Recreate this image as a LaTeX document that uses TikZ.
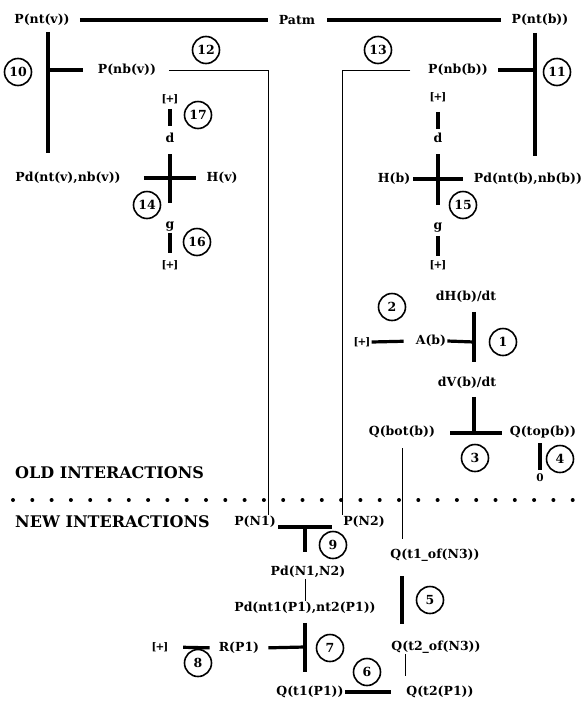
\documentclass[tikz,border=0pt]{standalone}
\usepackage{fontspec}
\setmainfont{DejaVu Serif}

\newcommand{\plusbox}{[\kern-1pt+\kern-1pt]}

\begin{document}
\begin{tikzpicture}[
  x=1pt, y=-1pt,
  var/.style={font=\fontsize{12.5}{14}\selectfont\bfseries, inner sep=1pt},
  unit/.style={font=\fontsize{10.5}{12}\selectfont\bfseries, inner sep=1pt},
  num/.style={
    draw, circle, line width=1.6pt, minimum size=27pt, inner sep=0pt,
    font=\fontsize{12.5}{14}\selectfont\bfseries
  },
  head/.style={font=\fontsize{16}{18}\selectfont\bfseries, anchor=west, inner sep=0pt},
  bar/.style={line width=3.2pt},
  wire/.style={line width=1pt},
  dotline/.style={line width=4pt, line cap=round, dash pattern=on 0pt off 19.3pt},
]
\useasboundingbox (0,0) rectangle (582,702);
% variables
\node[var] (ntv)  at (42,20)   {P(nt(v))};
\node[var] (patm) at (297,20)  {Patm};
\node[var] (ntb)  at (540,20)  {P(nt(b))};
\node[var] (nbv)  at (127,70)  {P(nb(v))};
\node[var] (nbb)  at (458,70)  {P(nb(b))};
\node[var] (pdv)  at (68,178)  {Pd(nt(v),nb(v))};
\node[var] (hv)   at (222,178) {H(v)};
\node[var] (hb)   at (394,179) {H(b)};
\node[var] (pdb)  at (528,179) {Pd(nt(b),nb(b))};
\node[var] (dv)   at (170,138) {d};
\node[var] (gv)   at (170,227) {g};
\node[var] (db)   at (438,138) {d};
\node[var] (gb)   at (438,228) {g};
\node[var] (dhdt) at (466,297) {dH(b)/dt};
\node[var] (ab)   at (431,341) {A(b)};
\node[var] (dvdt) at (467,383) {dV(b)/dt};
\node[var] (qbot) at (402,432) {Q(bot(b))};
\node[var] (qtop) at (543,432) {Q(top(b))};
\node[unit] (zero) at (540,478) {0};
\node[var] (pn1)  at (255,522) {P(N1)};
\node[var] (pn2)  at (364,522) {P(N2)};
\node[var] (pdn)  at (308,572) {Pd(N1,N2)};
\node[var] (pdnt) at (305,608) {Pd(nt1(P1),nt2(P1))};
\node[var] (q1n3) at (435,555) {Q(t1\_of(N3))};
\node[var] (q2n3) at (436,647) {Q(t2\_of(N3))};
\node[var] (rp1)  at (239,648) {R(P1)};
\node[var] (qt1)  at (310,692) {Q(t1(P1))};
\node[var] (qt2)  at (440,692) {Q(t2(P1))};
% constants
\node[unit] (pv1) at (170,99)  {\plusbox};
\node[unit] (pv2) at (170,265) {\plusbox};
\node[unit] (pb1) at (438,97)  {\plusbox};
\node[unit] (pb2) at (438,265) {\plusbox};
\node[unit] (pa)  at (362,342) {\plusbox};
\node[unit] (pr)  at (160,647) {\plusbox};
% headings
\node[head] (old) at (15,473) {OLD INTERACTIONS};
\node[head] (new) at (15,522) {NEW INTERACTIONS};
% constraint numbers
\node[num] (n1)  at (503,342) {1};
\node[num] (n2)  at (392,307) {2};
\node[num] (n3)  at (475,458) {3};
\node[num] (n4)  at (560,459) {4};
\node[num] (n5)  at (430,600) {5};
\node[num] (n6)  at (367,672) {6};
\node[num] (n7)  at (330,648) {7};
\node[num] (n8)  at (198,663) {8};
\node[num] (n9)  at (333,545) {9};
\node[num] (n10) at (18,72)   {10};
\node[num] (n11) at (557,72)  {11};
\node[num] (n12) at (206,50)  {12};
\node[num] (n13) at (378,50)  {13};
\node[num] (n14) at (147,205) {14};
\node[num] (n15) at (463,205) {15};
\node[num] (n16) at (197,242) {16};
\node[num] (n17) at (198,115) {17};
% junctions
\coordinate (j1)  at (474,342);
\coordinate (j3)  at (474,433);
\coordinate (j5)  at (402,600);
\coordinate (j7)  at (305,647);
\coordinate (j9)  at (305,527);
\coordinate (j10) at (48,70);
\coordinate (j11) at (535,70);
\coordinate (sepl) at (13,500);
\coordinate (sepr) at (578,500);
% constraints
\draw[bar, shorten <=9pt, shorten >=10pt] (ntv.east) -- (patm.west);
\draw[bar, shorten <=11pt, shorten >=9pt] (patm.east) -- (ntb.west);
\draw[bar, shorten <=5pt, shorten >=18pt] (ntv.south -| j10) -- (pdv.north -| j10);
\draw[bar, shorten >=14pt] (j10) -- (nbv.west);
\draw[bar, shorten <=6pt, shorten >=16pt] (ntb.south -| j11) -- (pdb.north -| j11);
\draw[bar, shorten >=9pt] (j11) -- (nbb.east);
\draw[bar, shorten <=10pt, shorten >=18pt] (dv) -- (gv);
\draw[bar, shorten <=22pt, shorten >=9pt] (pdv.east) -- (hv.west);
\draw[bar, shorten <=10pt, shorten >=17pt] (db) -- (gb);
\draw[bar, shorten <=2pt, shorten >=10pt] (hb.east) -- (pdb.west);
\draw[bar, shorten <=4pt, shorten >=6pt] (pv1) -- (dv);
\draw[bar, shorten >=6pt] (gv) -- (pv2);
\draw[bar, shorten <=9pt, shorten >=3pt] (pb1) -- (db);
\draw[bar, shorten <=2pt, shorten >=3pt] (gb) -- (pb2);
\draw[bar, shorten >=11pt] (pa.east) -- (ab.west);
\draw[bar, shorten <=8pt, shorten >=14pt] (dhdt.south -| j1) -- (dvdt.north -| j1);
\draw[bar] (ab.east) -- (j1);
\draw[bar, shorten <=7pt] (dvdt.south -| j3) -- (j3);
\draw[bar, shorten <=14pt, shorten >=7pt] (qbot.east |- j3) -- (qtop.west |- j3);
\draw[bar, shorten <=4pt, shorten >=3pt] (zero.north |- qtop.south) -- (zero.north);
\draw[bar, shorten <=14pt, shorten >=16pt] (q1n3.south -| j5) -- (q2n3.north -| j5);
\draw[bar, shorten >=14pt] (qt1.east) -- (qt2.west);
\draw[bar, shorten <=8pt, shorten >=13pt] (pdnt.south -| j7) -- (qt1.north -| j7);
\draw[bar, shorten <=8pt] (rp1.east) -- (j7);
\draw[bar, shorten <=13.5pt, shorten >=8pt] (pr.east) -- (rp1.west);
\draw[bar, shorten <=1.5pt, shorten >=10.5pt] (pn1.east |- j9) -- (pn2.west |- j9);
\draw[bar, shorten >=13pt] (j9) -- (pdn.north -| j9);
% wires
\draw[wire, shorten <=11.5pt] (nbv.east) -| ([xshift=-8.5pt]pn1.north east);
\draw[wire, shorten <=16.5pt] (nbb.west) -| (pn2.north west);
\draw[wire, shorten <=9pt, shorten >=9pt] (qbot.south) -- (q1n3.north -| qbot.south);
\draw[wire, shorten >=9pt] (q2n3.south -| 405,0) -- (qt2.north -| 405,0);
\draw[wire] (pdn.south -| j9) -- (pdnt.north -| j9);
\draw[dotline] (sepl) -- (sepr);
\end{tikzpicture}
\end{document}
